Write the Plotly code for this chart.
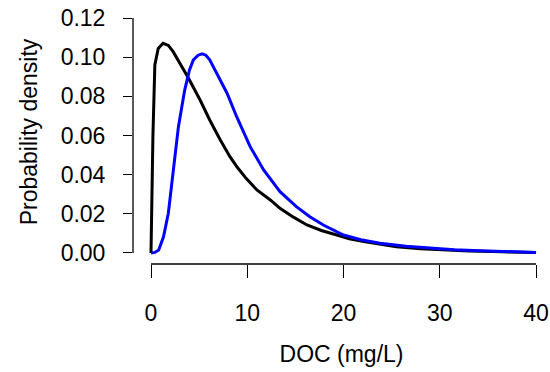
import plotly.graph_objects as go

# Black curve (DOC density, model 1)
black_x = [0.0, 0.2, 0.4, 0.75, 1.25, 1.8, 2.3, 3.0, 3.9, 5.1, 6.1, 7.2, 8.2, 9.0, 9.9,
           11.0, 12.4, 13.4, 14.8, 16.2, 17.7, 19.3, 20.6, 22.1, 23.8, 25.5, 28.0, 30.7,
           33.0, 35.5, 38.0, 40.0]
black_y = [0.0, 0.060, 0.096, 0.1045, 0.1071, 0.1060, 0.1028, 0.0969, 0.0892, 0.0781,
           0.0679, 0.0577, 0.0492, 0.0435, 0.0380, 0.0322, 0.0271, 0.0228, 0.0183,
           0.0143, 0.0115, 0.0092, 0.0073, 0.0058, 0.0044, 0.0032, 0.0022, 0.0015,
           0.0010, 0.0007, 0.0004, 0.0002]

# Blue curve (DOC density, model 2)
blue_x = [0.0, 0.4, 0.8, 1.3, 1.8, 2.3, 2.85, 3.5, 4.0, 4.4, 4.9, 5.3, 5.7, 6.1, 7.0,
          7.9, 8.9, 10.3, 11.7, 13.4, 15.1, 16.5, 17.9, 20.0, 21.8, 23.8, 26.5, 29.0,
          31.5, 34.2, 37.0, 40.0]
blue_y = [0.0, 0.0003, 0.0015, 0.0083, 0.0203, 0.0424, 0.0645, 0.0832, 0.0935, 0.0986,
          0.1010, 0.1017, 0.1010, 0.0986, 0.0900, 0.0816, 0.0696, 0.0543, 0.0424,
          0.0313, 0.0237, 0.0185, 0.0143, 0.0092, 0.0068, 0.0050, 0.0034, 0.0024,
          0.0017, 0.0012, 0.0007, 0.0002]

x_ticks = [0, 10, 20, 30, 40]
y_ticks = [0.00, 0.02, 0.04, 0.06, 0.08, 0.10, 0.12]
y_tick_text = ["0.00", "0.02", "0.04", "0.06", "0.08", "0.10", "0.12"]

font_family = "Liberation Sans, Arial, sans-serif"

fig = go.Figure()
fig.add_trace(go.Scatter(x=black_x, y=black_y, mode="lines",
                         line=dict(color="black", width=3), showlegend=False))
fig.add_trace(go.Scatter(x=blue_x, y=blue_y, mode="lines",
                         line=dict(color="#0000ff", width=3), showlegend=False))

# axis lines only spanning tick range (R style)
fig.add_shape(type="line", xref="x", yref="paper", x0=0, x1=40, y0=0, y1=0,
              line=dict(color="black", width=1.3))
fig.add_shape(type="line", xref="paper", yref="y", x0=0, x1=0, y0=0, y1=0.12,
              line=dict(color="black", width=1.3))

fig.update_layout(
    width=550, height=372,
    margin=dict(l=133, r=0, t=0, b=108),
    plot_bgcolor="white", paper_bgcolor="white",
    font=dict(family=font_family, size=23, color="black"),
    xaxis=dict(range=[-1.87, 41.45], tickvals=x_ticks, ticktext=[str(v) for v in x_ticks],
               ticks="outside", ticklen=13, tickwidth=1.3, tickcolor="black",
               showline=False, showgrid=False, zeroline=False,
               ticklabelstandoff=15,
               title=dict(text="DOC (mg/L)", standoff=21, font=dict(size=23))),
    yaxis=dict(range=[-0.00562, 0.12919], tickvals=y_ticks, ticktext=y_tick_text,
               ticks="outside", ticklen=9, tickwidth=1.3, tickcolor="black",
               showline=False, showgrid=False, zeroline=False,
               ticklabelstandoff=13,
               title=dict(text="Probability density", standoff=16, font=dict(size=23))),
)

fig.write_html("out.html")
